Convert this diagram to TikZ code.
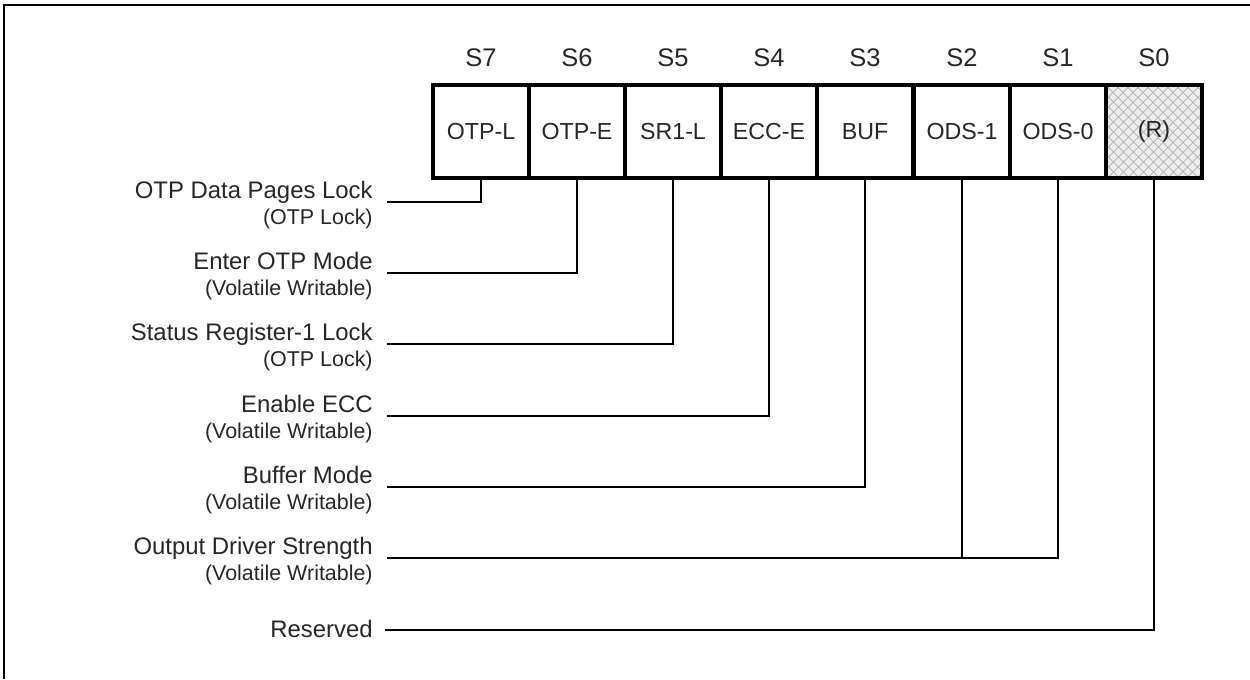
\documentclass[tikz,border=0pt]{standalone}
\usepackage{fontspec}
\setmainfont{Liberation Sans}
\usetikzlibrary{patterns.meta}

\begin{document}
\begin{tikzpicture}[scale=0.2,
  bitcell/.style={draw=black,line width=2.3pt,outer sep=0pt,minimum width=1.922cm,minimum height=1.86cm,font=\fontsize{13.2}{15}\selectfont},
  bitname/.style={font=\fontsize{14.5}{17}\selectfont},
  field/.style={anchor=base east,font=\fontsize{13.6}{16}\selectfont},
  fieldnote/.style={anchor=base east,font=\fontsize{12.2}{14}\selectfont},
  hatched/.style={preaction={fill=black!7},
    preaction={pattern={Lines[angle=45,distance=4pt,line width=0.5pt]},pattern color=black!30},
    preaction={pattern={Lines[angle=-45,distance=4pt,line width=0.5pt]},pattern color=black!30}},
  wire/.style={line width=1.1pt}]
\tikzstyle{every node}+=[inner sep=0pt,text=black!85]
\useasboundingbox (0,0) rectangle (125,-67.9);
\draw [black,line width=1.7pt] (0.4,-67.9) -- (0.4,-0.5) -- (125,-0.5);
% register cells
\node [bitcell] (b7) at (48.1,-13.15) {OTP-L};
\node [bitcell] (b6) at (57.7,-13.15) {OTP-E};
\node [bitcell] (b5) at (67.3,-13.15) {SR1-L};
\node [bitcell] (b4) at (76.9,-13.15) {ECC-E};
\node [bitcell] (b3) at (86.5,-13.15) {BUF};
\node [bitcell] (b2) at (96.2,-13.15) {ODS-1};
\node [bitcell] (b1) at (105.8,-13.15) {ODS-0};
\node [bitcell,hatched] (b0) at (115.4,-13.15) {(R)};
\node [bitname] (s7) at (48.1,-5.8) {S7};
\node [bitname] (s6) at (57.7,-5.8) {S6};
\node [bitname] (s5) at (67.3,-5.8) {S5};
\node [bitname] (s4) at (76.9,-5.8) {S4};
\node [bitname] (s3) at (86.5,-5.8) {S3};
\node [bitname] (s2) at (96.2,-5.8) {S2};
\node [bitname] (s1) at (105.8,-5.8) {S1};
\node [bitname] (s0) at (115.4,-5.8) {S0};
% field names
\node [field] (f7) at (37.3,-19.8) {OTP Data Pages Lock};
\node [fieldnote] (n7) at (37.3,-22.4) {(OTP Lock)};
\node [field] (f6) at (37.3,-26.9) {Enter OTP Mode};
\node [fieldnote] (n6) at (37.3,-29.5) {(Volatile Writable)};
\node [field] (f5) at (37.3,-34.0) {Status Register-1 Lock};
\node [fieldnote] (n5) at (37.3,-36.6) {(OTP Lock)};
\node [field] (f4) at (37.3,-41.2) {Enable ECC};
\node [fieldnote] (n4) at (37.3,-43.8) {(Volatile Writable)};
\node [field] (f3) at (37.3,-48.3) {Buffer Mode};
\node [fieldnote] (n3) at (37.3,-50.9) {(Volatile Writable)};
\node [field] (f1) at (37.3,-55.4) {Output Driver Strength};
\node [fieldnote] (n1) at (37.3,-58.0) {(Volatile Writable)};
\node [field] (f0) at (37.3,-63.7) {Reserved};
% wires
\coordinate (w7) at (38.7,-20.2);
\coordinate (w6) at (38.7,-27.3);
\coordinate (w5) at (38.7,-34.4);
\coordinate (w4) at (38.7,-41.6);
\coordinate (w3) at (38.7,-48.7);
\coordinate (w1) at (38.7,-55.8);
\coordinate (w0) at (38.5,-63.0);
\draw [wire] (w7) -| (b7.south);
\draw [wire] (w6) -| (b6.south);
\draw [wire] (w5) -| (b5.south);
\draw [wire] (w4) -| (b4.south);
\draw [wire] (w3) -| (b3.south);
\draw [wire] (w1) -| (b1.south);
\draw [wire] (b2.south) -- (b2.south |- w1);
\draw [wire] (w0) -| (b0.south);
\end{tikzpicture}
\end{document}
